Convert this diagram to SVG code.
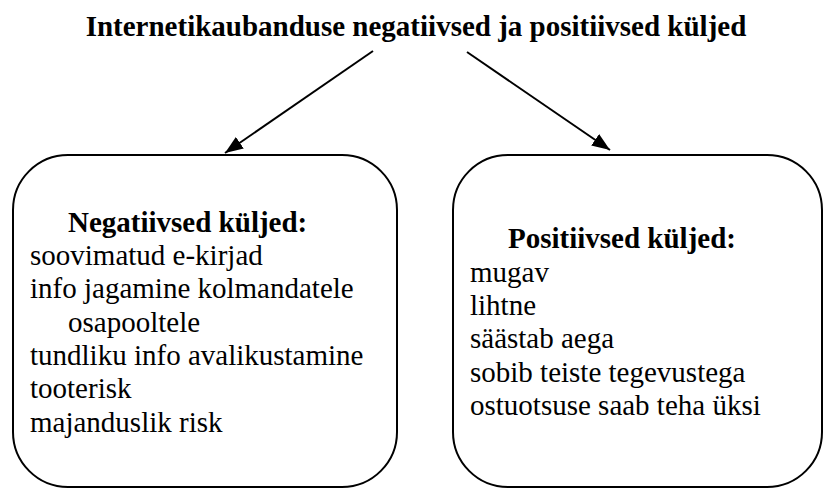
<svg xmlns="http://www.w3.org/2000/svg" width="824" height="489" viewBox="0 0 824 489">
<style>
  .t { font-family: "Liberation Serif", "Times New Roman", serif; font-size: 29px; fill: #000; }
  .b { font-weight: bold; }
  .box { fill: #fff; stroke: #000; stroke-width: 2; }
  .conn { stroke: #000; stroke-width: 2; fill: none; }
</style>
<defs>
  <marker id="ah" viewBox="0 0 18 14" refX="18" refY="7" markerWidth="18" markerHeight="14" markerUnits="userSpaceOnUse" orient="auto">
    <path d="M0,0 L18,7 L0,14 z" fill="#000"/>
  </marker>
</defs>
<rect width="824" height="489" fill="#fff"/>
<g id="title">
  <text class="t b" x="416" y="36" text-anchor="middle" font-size="26.7">Internetikaubanduse negatiivsed ja positiivsed küljed</text>
</g>
<g id="negative">
  <rect class="box" x="13" y="155" width="384" height="332" rx="55" ry="55"/>
  <text class="t b" x="68" y="232">Negatiivsed küljed:</text>
  <text class="t" x="30" y="265">soovimatud e-kirjad</text>
  <text class="t" x="30" y="298">info jagamine kolmandatele</text>
  <text class="t" x="68" y="332">osapooltele</text>
  <text class="t" x="30" y="365">tundliku info avalikustamine</text>
  <text class="t" x="30" y="398">tooterisk</text>
  <text class="t" x="30" y="432">majanduslik risk</text>
</g>
<g id="positive">
  <rect class="box" x="453" y="155" width="369" height="332" rx="55" ry="55"/>
  <text class="t b" x="508" y="248">Positiivsed küljed:</text>
  <text class="t" x="470" y="282">mugav</text>
  <text class="t" x="470" y="315">lihtne</text>
  <text class="t" x="470" y="348">säästab aega</text>
  <text class="t" x="470" y="382">sobib teiste tegevustega</text>
  <text class="t" x="470" y="415">ostuotsuse saab teha üksi</text>
</g>
<g id="connectors">
  <line class="conn" x1="373" y1="51" x2="225" y2="153" marker-end="url(#ah)"/>
  <line class="conn" x1="467" y1="52" x2="610" y2="150" marker-end="url(#ah)"/>
</g>
</svg>
